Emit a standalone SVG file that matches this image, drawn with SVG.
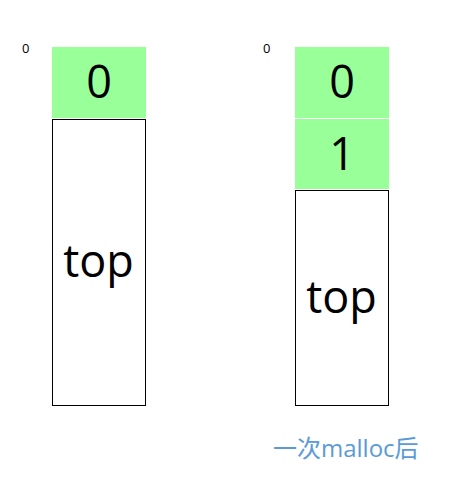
<svg xmlns="http://www.w3.org/2000/svg" width="460" height="487" viewBox="0 0 460 487">
<style>
.g{fill:#99FF99;stroke:none}
.w{fill:#fff;stroke:#000;stroke-width:1}
.big{font-family:"Open Sans","Noto Sans CJK SC",sans-serif;font-size:45px;fill:#000;text-anchor:middle}
.sm{font-family:"Open Sans",sans-serif;font-size:13px;fill:#000}
.cap{font-family:"Open Sans","Noto Sans CJK SC",sans-serif;font-size:24px;fill:#5B9BD5}
</style>
<rect width="460" height="487" fill="#fff"/>
<text class="sm" x="22" y="53">0</text>
<g id="left0"><rect class="g" x="52" y="47" width="94" height="71"/><text class="big" x="99" y="98">0</text></g>
<g id="lefttop"><rect class="w" x="52.5" y="119.5" width="93" height="286"/><text class="big" x="98.5" y="277">top</text></g>
<text class="sm" x="263" y="53">0</text>
<g id="right0"><rect class="g" x="295" y="47" width="94" height="71"/><text class="big" x="342" y="98">0</text></g>
<g id="right1"><rect class="g" x="295" y="119" width="94" height="70"/><text class="big" x="342" y="170">1</text></g>
<g id="righttop"><rect class="w" x="295.5" y="190.5" width="93" height="215"/><text class="big" x="341.5" y="313">top</text></g>
<g id="connectors"></g>
<text class="cap" x="273" y="457">一次malloc后</text>
</svg>
